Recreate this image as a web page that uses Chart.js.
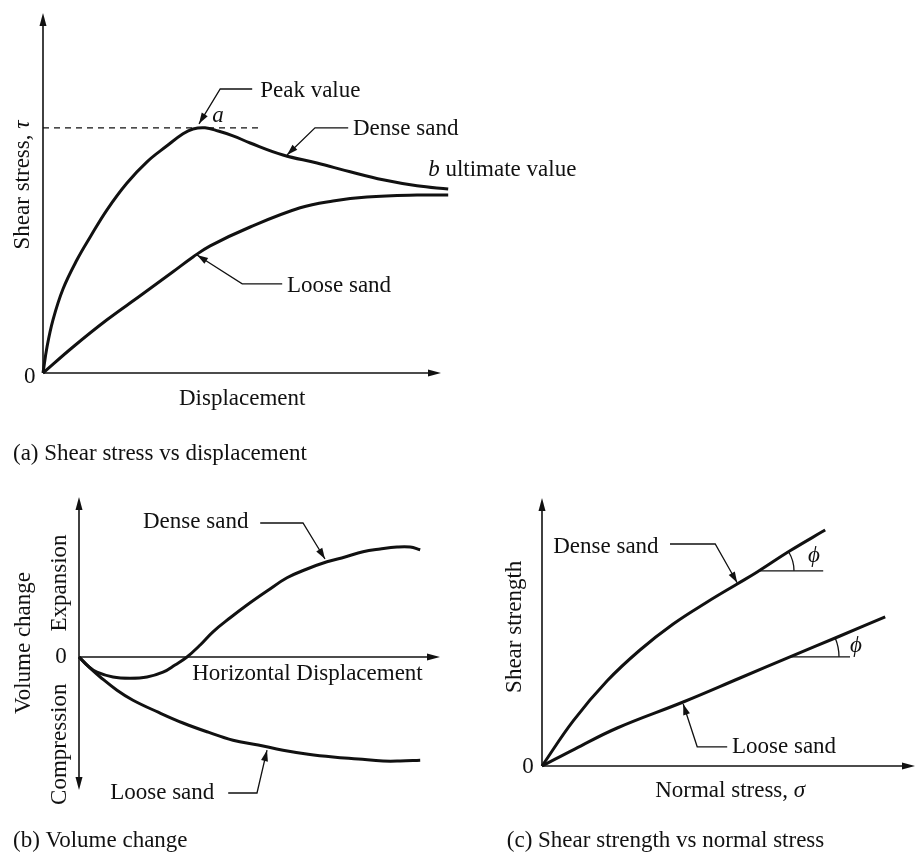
<!DOCTYPE html>
<html>
<head>
<meta charset="utf-8">
<script src="https://cdn.jsdelivr.net/npm/chart.js@4.4.1/dist/chart.umd.min.js"></script>
<style>
  body { margin: 0; background: #fff; }
  #wrap { position: relative; width: 916px; height: 852px; }
  canvas { position: absolute; }
</style>
</head>
<body>
<div id="wrap">
  <canvas id="chartA" width="916" height="470" style="left:0px;top:0px"></canvas>
  <canvas id="chartB" width="500" height="382" style="left:0px;top:470px"></canvas>
  <canvas id="chartC" width="416" height="382" style="left:500px;top:470px"></canvas>
</div>
<script>
// (a) shear stress vs displacement
const denseShearX = [0, 0.1, 0.25, 0.5, 0.85, 1.18, 1.6, 2.1, 2.6, 3.1, 3.5, 3.75, 4.05, 4.38, 4.75, 5.18, 6.0, 6.85, 7.68, 8.5, 9.35, 10.13];
const denseShearY = [0, 0.65, 1.33, 2.1, 2.83, 3.4, 4.08, 4.75, 5.28, 5.68, 5.98, 6.1, 6.13, 6.05, 5.93, 5.75, 5.45, 5.25, 5.03, 4.83, 4.68, 4.6];
const looseShearX = [0, 0.75, 1.6, 2.43, 3.25, 3.75, 4.18, 5.18, 6.43, 7.25, 8.1, 9.35, 10.13];
const looseShearY = [0, 0.65, 1.33, 1.93, 2.53, 2.9, 3.18, 3.65, 4.13, 4.3, 4.4, 4.45, 4.45];
const peakShear = 6.13;

// (b) volume change vs horizontal displacement
const denseVolX = [0, 0.23, 0.45, 0.85, 1.28, 1.7, 2.1, 2.4, 2.7, 3.03, 3.35, 3.78, 4.2, 4.7, 5.2, 5.7, 6.2, 6.65, 7.1, 7.53, 7.95, 8.28, 8.53];
const denseVolY = [0, -0.23, -0.38, -0.5, -0.53, -0.5, -0.38, -0.2, 0, 0.3, 0.63, 0.98, 1.3, 1.65, 1.98, 2.2, 2.38, 2.5, 2.63, 2.7, 2.75, 2.75, 2.68];
const looseVolX = [0, 0.28, 0.53, 0.95, 1.35, 1.98, 2.6, 3.23, 3.85, 4.48, 5.1, 5.73, 6.35, 6.98, 7.6, 8.03, 8.53];
const looseVolY = [0, -0.28, -0.5, -0.83, -1.08, -1.38, -1.65, -1.88, -2.08, -2.2, -2.33, -2.43, -2.5, -2.55, -2.6, -2.6, -2.58];

// (c) shear strength vs normal stress
const denseEnvX = [0, 0.78, 1.63, 2.45, 3.28, 4.13, 4.88, 5.38, 6.2, 7.08];
const denseEnvY = [0, 1.13, 2.13, 2.9, 3.55, 4.1, 4.55, 4.85, 5.38, 5.9];
const looseEnvX = [0, 0.83, 1.88, 3.53, 4.95, 6.2, 7.45, 8.58];
const looseEnvY = [0, 0.43, 0.95, 1.6, 2.2, 2.73, 3.25, 3.73];

const FONT = '"Liberation Serif", "Times New Roman", serif';
const FS = 23;

function toPoints(xs, ys) {
  return xs.map((v, i) => ({ x: v, y: ys[i] }));
}

function arrowHead(ctx, tx, ty, ang, len, half) {
  const c = Math.cos(ang), s = Math.sin(ang);
  ctx.beginPath();
  ctx.moveTo(tx, ty);
  ctx.lineTo(tx - len * c + half * s, ty - len * s - half * c);
  ctx.lineTo(tx - len * c - half * s, ty - len * s + half * c);
  ctx.closePath();
  ctx.fill();
}

function segLine(ctx, x1, y1, x2, y2) {
  ctx.beginPath();
  ctx.moveTo(x1, y1);
  ctx.lineTo(x2, y2);
  ctx.stroke();
}

// axes, leaders and labels drawn with the chart's own scales
const decorPlugin = {
  id: 'decor',
  beforeDatasetsDraw(chart, args, opts) {
    const ctx = chart.ctx;
    const sx = chart.scales.x, sy = chart.scales.y;
    const x0 = sx.getPixelForValue(0), y0 = sy.getPixelForValue(0);
    const xr = sx.getPixelForValue(sx.max);
    const yt = sy.getPixelForValue(sy.max);
    ctx.save();
    ctx.strokeStyle = '#111';
    ctx.fillStyle = '#111';
    ctx.lineWidth = 1.6;
    segLine(ctx, x0, y0, xr - 6, y0);
    arrowHead(ctx, xr, y0, 0, 13, 3.5);
    const yb = opts.downArrow ? sy.getPixelForValue(sy.min) : y0;
    segLine(ctx, x0, yb - (opts.downArrow ? 6 : 0), x0, yt + 6);
    arrowHead(ctx, x0, yt, -Math.PI / 2, 13, 3.5);
    if (opts.downArrow) arrowHead(ctx, x0, yb, Math.PI / 2, 13, 3.5);
    if (opts.dashed) {
      const d = opts.dashed;
      ctx.setLineDash([6, 5]);
      ctx.lineWidth = 1.3;
      segLine(ctx, sx.getPixelForValue(d.x0), sy.getPixelForValue(d.y), sx.getPixelForValue(d.x1), sy.getPixelForValue(d.y));
      ctx.setLineDash([]);
    }
    ctx.restore();
  },
  afterDatasetsDraw(chart, args, opts) {
    const ctx = chart.ctx;
    const sx = chart.scales.x, sy = chart.scales.y;
    const P = (x, y) => [sx.getPixelForValue(x), sy.getPixelForValue(y)];
    ctx.save();
    ctx.strokeStyle = '#111';
    ctx.fillStyle = '#111';
    // leader lines with arrows
    (opts.leaders || []).forEach(pts => {
      const pp = pts.map(p => P(p[0], p[1]));
      ctx.lineWidth = 1.3;
      ctx.beginPath();
      pp.forEach((p, i) => i ? ctx.lineTo(p[0], p[1]) : ctx.moveTo(p[0], p[1]));
      ctx.stroke();
      const a = pp[pp.length - 2], b = pp[pp.length - 1];
      arrowHead(ctx, b[0], b[1], Math.atan2(b[1] - a[1], b[0] - a[0]), 11, 3.5);
    });
    // angle marks
    (opts.angles || []).forEach(m => {
      const c = P(m.x, m.y);
      const e = P(m.x2, m.y);
      ctx.lineWidth = 1.3;
      segLine(ctx, c[0], c[1], e[0], c[1]);
      ctx.beginPath();
      ctx.arc(c[0], c[1], m.r, -m.deg * Math.PI / 180, 0);
      ctx.stroke();
    });
    // labels
    ctx.textBaseline = 'alphabetic';
    (opts.texts || []).forEach(t => {
      const p = P(t.x, t.y);
      const parts = t.parts || [{ s: t.s, it: t.it }];
      ctx.save();
      ctx.translate(p[0], p[1]);
      if (t.rot) {
        ctx.rotate(-Math.PI / 2);
        ctx.textBaseline = 'middle';
      }
      let total = 0;
      parts.forEach(q => {
        ctx.font = (q.it ? 'italic ' : '') + FS + 'px ' + FONT;
        total += ctx.measureText(q.s).width;
      });
      let cx = t.align === 'center' ? -total / 2 : 0;
      ctx.textAlign = 'left';
      parts.forEach(q => {
        ctx.font = (q.it ? 'italic ' : '') + FS + 'px ' + FONT;
        ctx.fillText(q.s, cx, 0);
        cx += ctx.measureText(q.s).width;
      });
      ctx.restore();
    });
    ctx.restore();
  }
};

function makeChart(id, series, xMax, yMin, yMax, pad, decor) {
  return new Chart(document.getElementById(id), {
    type: 'line',
    data: {
      datasets: series.map(s => ({
        data: toPoints(s[0], s[1]),
        borderColor: '#111',
        borderWidth: 3,
        pointRadius: 0,
        fill: false,
        tension: 0.4,
        clip: false
      }))
    },
    options: {
      responsive: false,
      animation: false,
      devicePixelRatio: 1,
      events: [],
      layout: { padding: pad },
      scales: {
        x: { type: 'linear', display: false, min: 0, max: xMax },
        y: { type: 'linear', display: false, min: yMin, max: yMax }
      },
      plugins: {
        legend: { display: false },
        tooltip: { enabled: false },
        decor: decor
      }
    },
    plugins: [decorPlugin]
  });
}

makeChart('chartA', [[denseShearX, denseShearY], [looseShearX, looseShearY]], 9.95, 0, 9.0,
  { left: 43, top: 13, right: 475, bottom: 97 }, {
    dashed: { x0: 0, x1: 5.38, y: peakShear },
    leaders: [
      [[5.23, 7.1], [4.43, 7.1], [3.9, 6.23]],
      [[7.63, 6.13], [6.8, 6.13], [6.1, 5.45]],
      [[5.98, 2.23], [4.98, 2.23], [3.85, 2.95]]
    ],
    texts: [
      { s: 'Peak value', x: 5.43, y: 6.9 },
      { s: 'a', it: true, x: 4.23, y: 6.28 },
      { s: 'Dense sand', x: 7.75, y: 5.95 },
      { parts: [{ s: 'b', it: true }, { s: ' ultimate value' }], x: 9.63, y: 4.93 },
      { s: 'Loose sand', x: 6.1, y: 2.03 },
      { s: 'Displacement', x: 4.98, y: -0.8, align: 'center' },
      { s: '0', x: -0.33, y: -0.25, align: 'center' },
      { parts: [{ s: 'Shear stress, ' }, { s: 'τ', it: true }], x: -0.5, y: 4.7, rot: true, align: 'center' },
      { s: '(a) Shear stress vs displacement', x: -0.75, y: -2.18 }
    ]
  });

makeChart('chartB', [[denseVolX, denseVolY], [looseVolX, looseVolY]], 9.025, -3.325, 4.0,
  { left: 79, top: 27, right: 60, bottom: 62 }, {
    downArrow: true,
    leaders: [
      [[4.53, 3.35], [5.6, 3.35], [6.15, 2.45]],
      [[3.73, -3.4], [4.45, -3.4], [4.7, -2.33]]
    ],
    texts: [
      { s: 'Dense sand', x: 1.6, y: 3.23 },
      { s: 'Loose sand', x: 0.78, y: -3.55 },
      { s: 'Horizontal Displacement', x: 2.83, y: -0.58 },
      { s: '0', x: -0.45, y: -0.15, align: 'center' },
      { s: 'Volume change', x: -1.38, y: 0.35, rot: true, align: 'center' },
      { s: 'Expansion', x: -0.48, y: 1.85, rot: true, align: 'center' },
      { s: 'Compression', x: -0.48, y: -2.18, rot: true, align: 'center' },
      { s: '(b) Volume change', x: -1.65, y: -4.75 }
    ]
  });

makeChart('chartC', [[denseEnvX, denseEnvY], [looseEnvX, looseEnvY]], 9.325, 0, 6.7,
  { left: 42, top: 28, right: 1, bottom: 86 }, {
    leaders: [
      [[3.2, 5.55], [4.33, 5.55], [4.88, 4.58]],
      [[4.63, 0.48], [3.88, 0.48], [3.53, 1.55]]
    ],
    angles: [
      { x: 5.4, y: 4.88, x2: 7.03, r: 36, deg: 31 },
      { x: 6.2, y: 2.73, x2: 7.7, r: 49, deg: 23 }
    ],
    texts: [
      { s: 'Dense sand', x: 0.28, y: 5.33 },
      { s: 'Loose sand', x: 4.75, y: 0.33 },
      { s: 'ϕ', it: true, x: 6.65, y: 5.1 },
      { s: 'ϕ', it: true, x: 7.7, y: 2.85 },
      { parts: [{ s: 'Normal stress, ' }, { s: 'σ', it: true }], x: 2.83, y: -0.78 },
      { s: '0', x: -0.35, y: -0.18, align: 'center' },
      { s: 'Shear strength', x: -0.68, y: 3.48, rot: true, align: 'center' },
      { s: '(c) Shear strength vs normal stress', x: -0.88, y: -2.03 }
    ]
  });
</script>
</body>
</html>
